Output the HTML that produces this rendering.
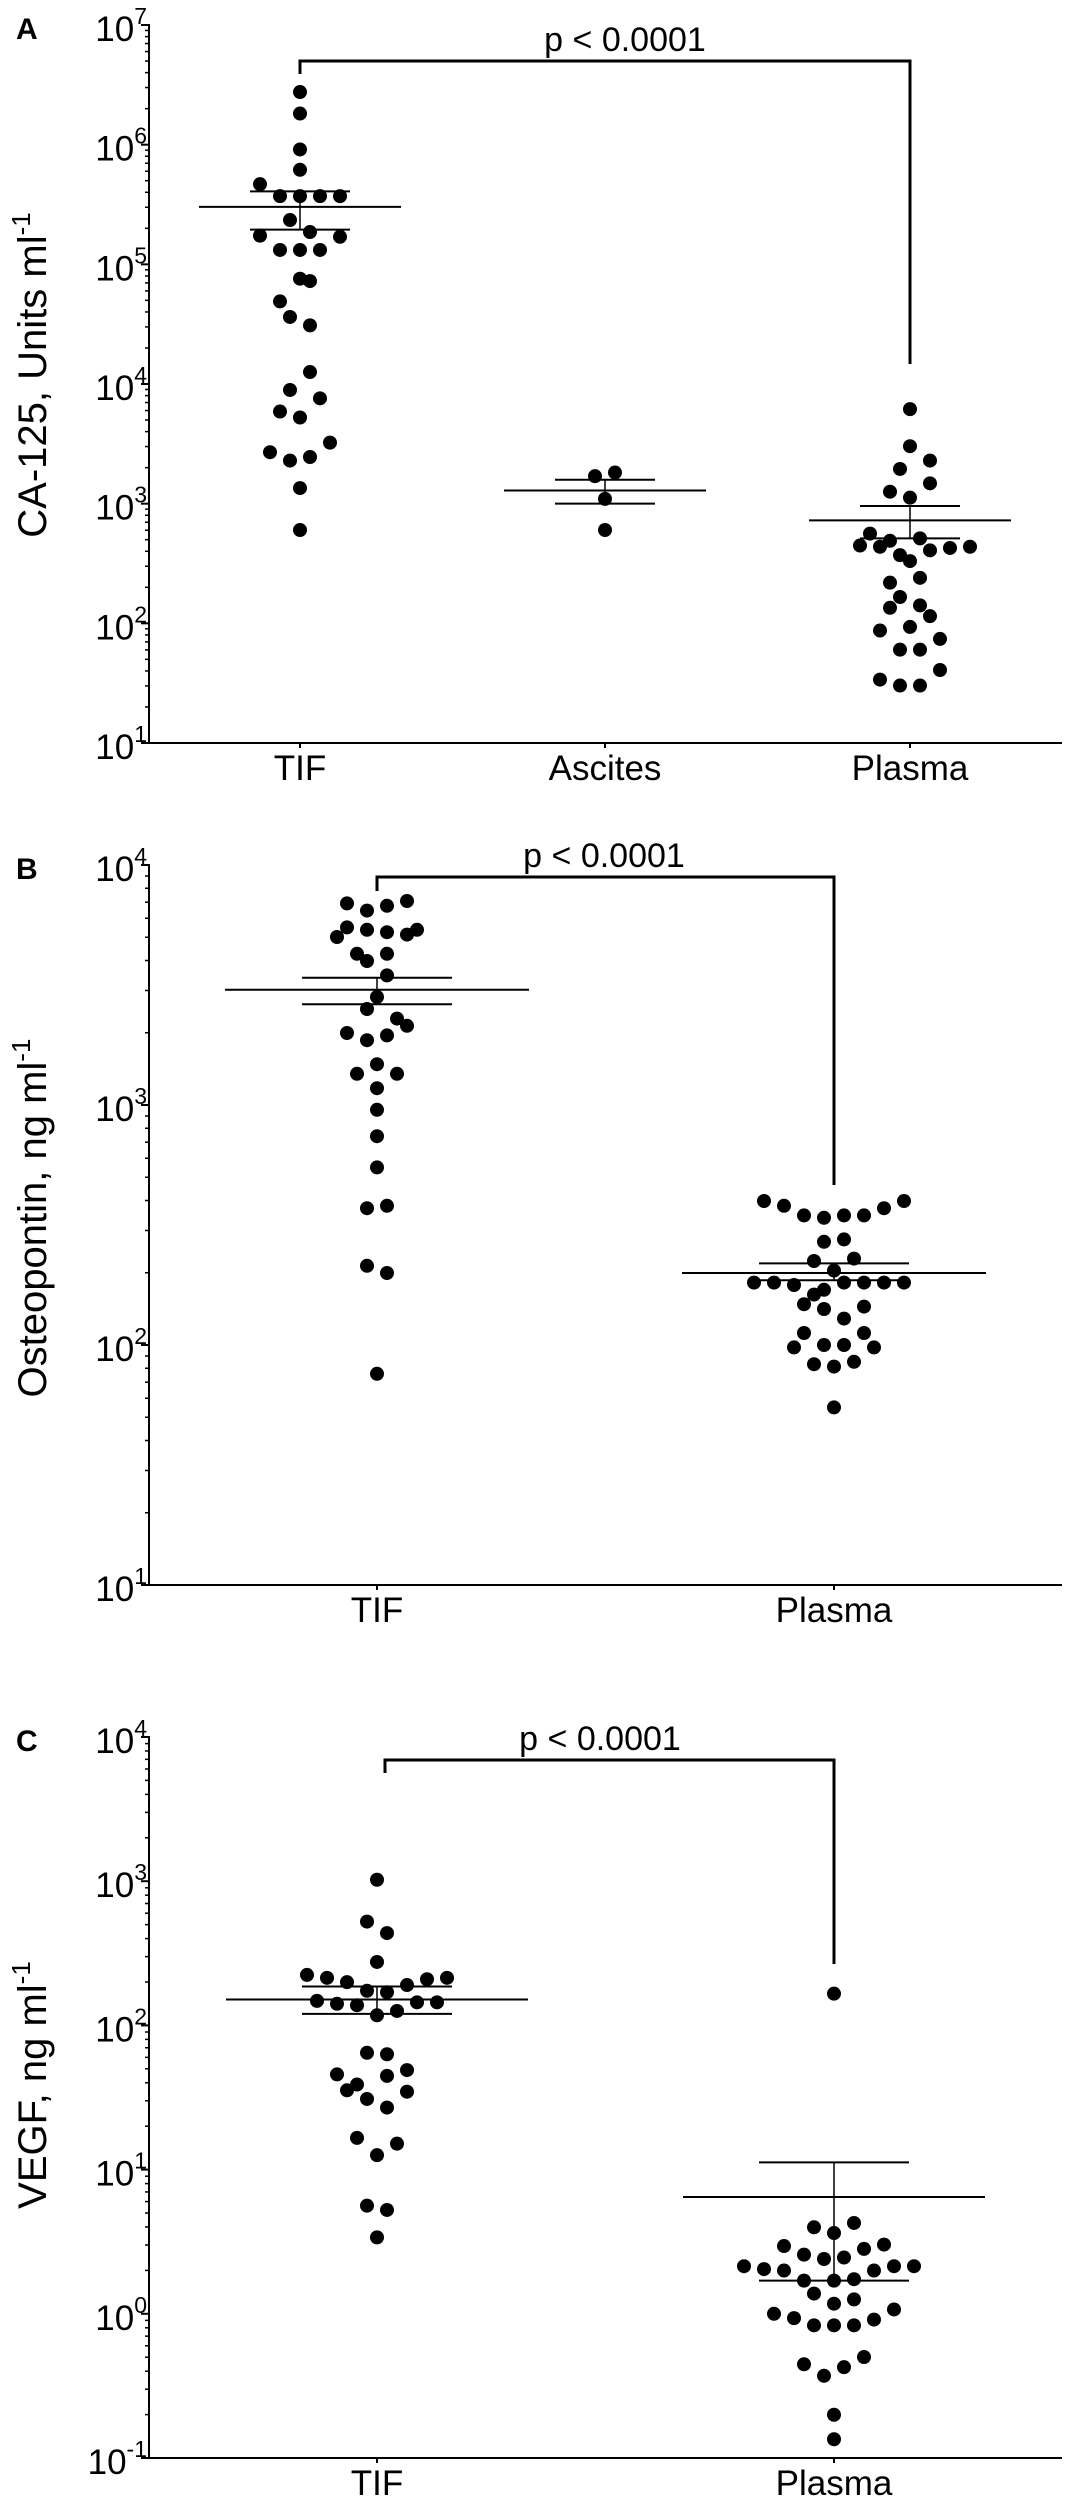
<!DOCTYPE html>
<html><head><meta charset="utf-8"><style>
html,body{margin:0;padding:0;background:#fff;}
svg{display:block;font-family:"Liberation Sans",Arial,sans-serif;}
</style></head><body>
<svg id="fig" width="1065" height="2500" viewBox="0 0 1065 2500"></svg>
<script>
// ---------- Panel A: CA-125 (log10 values) ----------
const aCategories = ["TIF","Ascites","Plasma"];
const aTifLog = [6.44,6.26,5.96,5.79,5.67,5.57,5.57,5.57,5.57,5.37,5.24,5.27,5.23,5.12,5.12,5.12,4.88,4.86,4.69,4.56,4.49,4.10,3.95,3.88,3.77,3.72,3.51,3.43,3.36,3.39,3.13,2.78];
const aTifJit = [0,0,0,0,-4,-2,0,2,4,-1,-4,1,4,-2,0,2,0,1,-2,-1,1,1,-1,2,-2,0,3,-3,-1,1,0,0];
const aAscLog = [3.23,3.26,3.04,2.78];
const aAscJit = [-1,1,0,0];
const aPlaLog = [3.79,3.48,3.36,3.29,3.17,3.10,3.05,2.75,2.69,2.71,2.65,2.64,2.63,2.64,2.57,2.61,2.52,2.34,2.38,2.22,2.13,2.15,2.06,1.97,1.94,1.87,1.78,1.78,1.61,1.53,1.48,1.48];
const aPlaJit = [0,0,2,-1,2,-2,0,-4,-2,1,-5,-3,4,6,-1,2,0,-2,1,-1,-2,1,2,0,-3,3,-1,1,3,-3,-1,1];
const aMeanLog = [5.48,3.11,2.86];
const aSemHiLog = [5.61,3.20,2.98];
const aSemLoLog = [5.29,3.00,2.71];
const aTicks = [1,2,3,4,5,6,7];

// ---------- Panel B: Osteopontin ----------
const bCategories = ["TIF","Plasma"];
const bTifLog = [3.84,3.81,3.83,3.85,3.74,3.73,3.72,3.73,3.70,3.71,3.63,3.63,3.60,3.54,3.45,3.40,3.36,3.30,3.33,3.29,3.27,3.17,3.13,3.13,3.07,2.98,2.87,2.74,2.57,2.58,2.33,2.30,1.88];
const bTifJit = [-3,-1,1,3,-3,-1,1,4,-4,3,-2,1,-1,1,0,-1,2,-3,3,1,-1,0,-2,2,0,0,0,0,-1,1,-1,1,0];
const bPlaLog = [2.60,2.60,2.58,2.57,2.54,2.53,2.54,2.54,2.43,2.44,2.35,2.36,2.31,2.26,2.26,2.25,2.23,2.26,2.26,2.26,2.26,2.21,2.17,2.15,2.16,2.11,2.05,2.05,1.99,2.00,2.00,1.99,1.92,1.91,1.93,1.74];
const bPlaJit = [-7,7,-5,5,-3,-1,1,3,-1,1,-2,2,0,-8,-6,-4,-1,1,3,7,5,-2,-3,-1,3,1,-3,3,-4,-1,1,4,-2,0,2,0];
const bMeanLog = [3.48,2.30];
const bSemHiLog = [3.53,2.34];
const bSemLoLog = [3.42,2.27];
const bTicks = [1,2,3,4];

// ---------- Panel C: VEGF ----------
const cCategories = ["TIF","Plasma"];
const cTifLog = [3.01,2.72,2.64,2.44,2.35,2.33,2.30,2.28,2.32,2.33,2.24,2.23,2.17,2.15,2.14,2.16,2.16,2.10,2.07,1.81,1.80,1.66,1.59,1.69,1.65,1.55,1.49,1.54,1.43,1.22,1.18,1.10,0.75,0.72,0.53];
const cTifJit = [0,-1,1,0,-7,-5,-3,3,5,7,-1,1,-6,-4,-2,4,6,2,0,-1,1,-4,-2,3,1,-3,-1,3,1,-2,2,0,-1,1,0];
const cPlaLog = [2.22,0.60,0.63,0.56,0.47,0.48,0.45,0.41,0.39,0.38,0.33,0.31,0.30,0.30,0.33,0.33,0.23,0.23,0.24,0.14,0.10,0.07,0.03,0.00,-0.03,-0.08,-0.08,-0.08,-0.04,-0.30,-0.35,-0.37,-0.43,-0.70,-0.87];
const cPlaJit = [0,-2,2,0,-5,5,3,-3,1,-1,-9,-7,-5,4,6,8,-3,0,2,-2,2,0,6,-6,-4,-2,2,0,4,3,-3,1,-1,0,0];
const cMeanLog = [2.18,0.81];
const cSemHiLog = [2.27,1.05];
const cSemLoLog = [2.08,0.23];
const cTicks = [-1,0,1,2,3,4];

const NS = "http://www.w3.org/2000/svg";
const svg = document.getElementById("fig");
function mk(tag, attrs, parent){
  const e = document.createElementNS(NS, tag);
  for (const k in attrs) e.setAttribute(k, attrs[k]);
  (parent||svg).appendChild(e);
  return e;
}

function drawPanel(p){
  const g = mk("g", {});
  
  
  const y = v => p.yBot - (v - p.min) * (p.yBot - p.yTop) / (p.max - p.min);
  const x = i => p.xs[i];
  const ya = mk("line", {x1:149,y1:p.yTop-1,x2:149,y2:p.yBot,stroke:"#000","stroke-width":2}, g);
  
  
  const xa = mk("line", {x1:148,y1:p.yBot,x2:1062,y2:p.yBot,stroke:"#000","stroke-width":2}, g);
  
  
  p.ticks.forEach((t, k) => {
    const ty = y(t);
    mk("line", {x1:141,y1:ty,x2:149,y2:ty,stroke:"#000","stroke-width":2}, g);
    if (k < p.ticks.length-1) {
      for (let m = 2; m <= 9; m++) {
        const my = y(t + Math.log10(m));
        mk("line", {x1:145,y1:my,x2:149,y2:my,stroke:"#000","stroke-width":1.5}, g);
      }
    }
    const lab = mk("text", {x:147,y:ty+16,"text-anchor":"end","font-size":35}, g);
    
    
    lab.innerHTML = '10<tspan font-size="23" dy="-17">' + t + '</tspan>';
  });
  p.cats.forEach((c, i) => {
    mk("line", {x1:x(i),y1:p.yBot,x2:x(i),y2:p.yBot+5,stroke:"#000","stroke-width":2}, g);
    const t = mk("text", {x:x(i),y:p.yBot+37,"text-anchor":"middle","font-size":35}, g);
    
    
    t.textContent = c;
  });
  const yt = mk("text", {x:0,y:0,"text-anchor":"middle","font-size":40,transform:"translate(46," + p.titleY + ") rotate(-90)"}, g);
  
  
  yt.innerHTML = p.title + '<tspan font-size="26" dy="-16">-1</tspan>';
  const pl = mk("text", {x:16,y:p.yTop+14,"font-size":30,"font-weight":"bold"}, g);
  
  
  pl.textContent = p.letter;
  p.series.forEach((s, i) => {
    s.v.forEach((v, j) => {
      const c = mk("circle", {cx:x(i) + s.j[j]*10, cy:y(v), r:7, fill:"#000"}, g);
      
      
    });
    const mh = p.meanHalf, sh = p.semHalf;
    const ml = mk("line", {x1:x(i)-mh,x2:x(i)+mh,y1:y(p.mean[i]),y2:y(p.mean[i]),stroke:"#000","stroke-width":2}, g);
    
    
    mk("line", {x1:x(i)-sh,x2:x(i)+sh,y1:y(p.hi[i]),y2:y(p.hi[i]),stroke:"#000","stroke-width":2}, g);
    mk("line", {x1:x(i)-sh,x2:x(i)+sh,y1:y(p.lo[i]),y2:y(p.lo[i]),stroke:"#000","stroke-width":2}, g);
    mk("line", {x1:x(i),x2:x(i),y1:y(p.hi[i]),y2:y(p.lo[i]),stroke:"#000","stroke-width":1.5}, g);
  });
  const b = p.bracket;
  const br = mk("path", {d:"M"+b.x1+" "+b.ly+" V"+b.y+" H"+b.x2+" V"+b.ry, fill:"none", stroke:"#000","stroke-width":3}, g);
  
  
  const pt = mk("text", {x:b.tx,y:b.y-10,"text-anchor":"middle","font-size":34}, g);
  
  
  pt.textContent = "p < 0.0001";
}

drawPanel({id:"panel-a",letter:"A",cats:aCategories,xs:[300,605,910],yTop:25,yBot:743,min:1,max:7,ticks:aTicks,
  title:"CA-125, Units ml",titleY:375,meanHalf:101,semHalf:50,
  series:[{v:aTifLog,j:aTifJit},{v:aAscLog,j:aAscJit},{v:aPlaLog,j:aPlaJit}],
  mean:aMeanLog,hi:aSemHiLog,lo:aSemLoLog,
  bracket:{x1:300,x2:910,y:61,ly:74,ry:364,tx:625}});
drawPanel({id:"panel-b",letter:"B",cats:bCategories,xs:[377,834],yTop:865,yBot:1585,min:1,max:4,ticks:bTicks,
  title:"Osteopontin, ng ml",titleY:1218,meanHalf:152,semHalf:75,
  series:[{v:bTifLog,j:bTifJit},{v:bPlaLog,j:bPlaJit}],
  mean:bMeanLog,hi:bSemHiLog,lo:bSemLoLog,
  bracket:{x1:377,x2:834,y:877,ly:891,ry:1185,tx:604}});
drawPanel({id:"panel-c",letter:"C",cats:cCategories,xs:[377,834],yTop:1737,yBot:2458,min:-1,max:4,ticks:cTicks,
  title:"VEGF, ng ml",titleY:2085,meanHalf:151,semHalf:75,
  series:[{v:cTifLog,j:cTifJit},{v:cPlaLog,j:cPlaJit}],
  mean:cMeanLog,hi:cSemHiLog,lo:cSemLoLog,
  bracket:{x1:385,x2:834,y:1760,ly:1773,ry:1964,tx:600}});
</script>
</body></html>
